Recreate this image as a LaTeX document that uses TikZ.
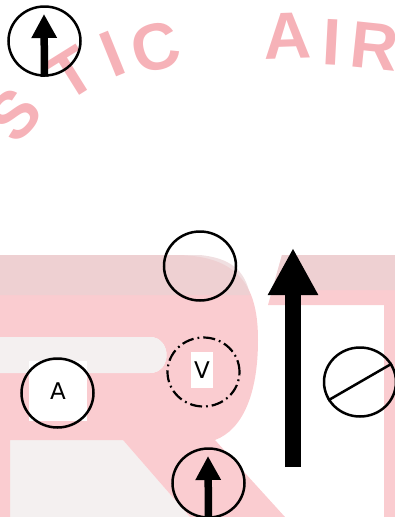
\documentclass[tikz,border=0pt]{standalone}
\usepackage{fontspec}
\setmainfont{DejaVu Sans}
\newfontfamily\wmfont{Liberation Sans}
\usetikzlibrary{arrows.meta,shapes.geometric,calc}
\definecolor{wmpink}{RGB}{250,204,208}
\definecolor{wmgray}{RGB}{234,210,212}
\definecolor{wmlight}{RGB}{244,240,240}
\definecolor{wmletter}{RGB}{246,178,184}
\tikzset{
  ring/.style={draw=black, line width=2.5pt, ellipse, minimum width=72pt, minimum height=69pt, inner sep=0pt},
  ringdd/.style={ring, line width=2.2pt, dash pattern=on 12pt off 4pt on 1.8pt off 4pt},
  lbl/.style={font=\fontsize{23}{23}\selectfont, fill=white, inner sep=0pt},
  wm/.style={font=\wmfont\bfseries\fontsize{66}{66}\selectfont, text=wmletter, inner sep=0pt},
  smallarrow/.style={line width=7.5pt, -{Triangle[length=24pt,width=24pt]}},
  bigarrow/.style={line width=16pt, -{Triangle[length=47pt,width=47pt]}},
  stroke/.style={draw=black, line width=2.5pt},
}
\begin{document}
\begin{tikzpicture}[x=1pt,y=-1pt]
\useasboundingbox (0,0) rectangle (395,517);
% watermark
\begin{scope}
  \clip (0,0) rectangle (395,517);
  \fill[wmlight] (10,440) -- (123,440) -- (190,517) -- (10,517) -- cycle;
  \fill[wmpink, even odd rule]
    (-100,255) -- (175,255) .. controls (242,255) and (258,290) .. (258,340)
    .. controls (258,395) and (242,430) .. (215,440) -- (285,517) -- (190,517)
    -- (123,440) -- (10,440) -- (10,517) -- (-100,517) -- cycle
    (0,337) -- (150,337) .. controls (172,337) and (172,373) .. (150,373) -- (0,373) -- cycle;
  \fill[wmlight] (0,337) -- (150,337) .. controls (172,337) and (172,373) .. (150,373) -- (0,373) -- cycle;
  \fill[wmgray, opacity=0.7] (0,255) -- (200,255) .. controls (230,258) and (245,270) .. (250,295) -- (0,295) -- cycle;
  \fill[wmpink] (282,255) -- (395,255) -- (395,305) -- (268,305) -- cycle;
  \fill[wmgray, opacity=0.7] (282,255) -- (395,255) -- (395,290) -- (272,290) -- cycle;
  \fill[wmpink] (384,300) rectangle (395,517);
  \node[wm, rotate=48] (wS) at (14,115) {S};
  \node[wm, rotate=32] (wT) at (72,74) {T};
  \node[wm, rotate=22] (wI) at (112,54) {I};
  \node[wm, rotate=15] (wC) at (156,47) {C};
  \node[wm, rotate=2] (wA) at (288,36) {A};
  \node[wm, rotate=-3] (wI2) at (332,42) {I};
  \node[wm, rotate=-6] (wR) at (375,46) {R};
\end{scope}
% label backgrounds
\node[lbl, minimum width=58pt, minimum height=60pt] (Abox) at (58,391) {A};
\node[lbl, minimum width=22pt, minimum height=36pt] (Vbox) at (202,370) {V};
% rings
\node[ring] (c1) at (44.5,41) {};
\node[ring] (c2) at (200,266) {};
\node[ring] (A) at (57.5,393) {};
\node[ringdd] (Vc) at (203.5,372) {};
\node[ring] (d) at (360,382) {};
\node[ring] (c5) at (208.5,483) {};
% arrows
\coordinate (t1) at (44,14);
\coordinate (t5) at (208,456);
\coordinate (bigtail) at (293,467);
\coordinate (bighead) at (293,248);
\draw[smallarrow] (c1.south) -- (t1);
\draw[smallarrow] (c5.south) -- (t5);
\draw[bigarrow] (bigtail) -- (bighead);
\draw[stroke] (d.210) -- (d.30);
\end{tikzpicture}
\end{document}
